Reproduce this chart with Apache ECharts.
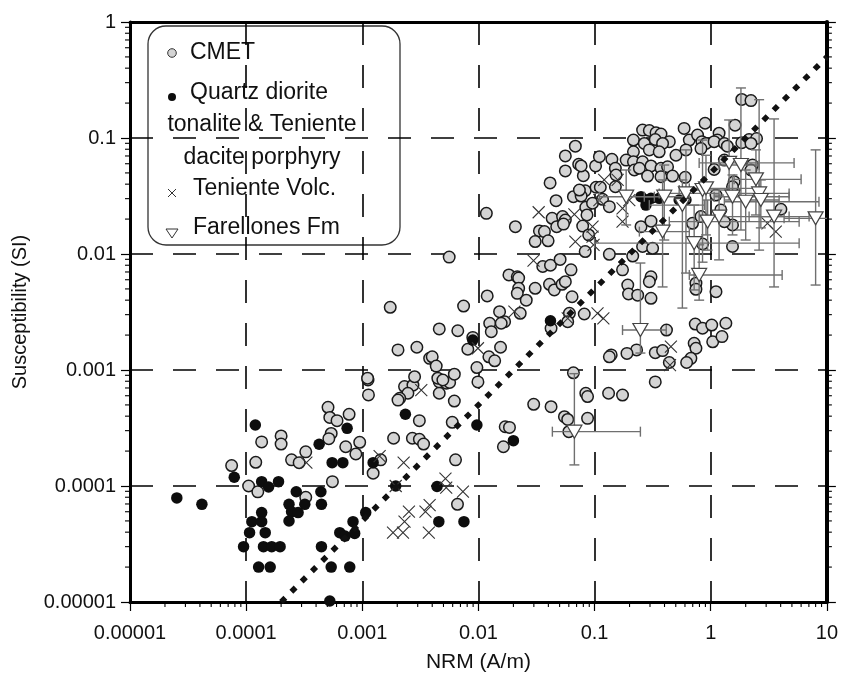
<!DOCTYPE html>
<html>
<head>
<meta charset="utf-8">
<script src="https://cdn.jsdelivr.net/npm/echarts@6/dist/echarts.min.js"></script>
<style>
  html, body { margin: 0; padding: 0; background: #fff; }
  #chart { width: 841px; height: 678px; }
</style>
</head>
<body>
<div id="chart"></div>
<script>
// NRM (A/m) vs magnetic susceptibility (SI), log-log

const xTickLabels = ['0.00001', '0.0001', '0.001', '0.01', '0.1', '1', '10'];
const yTickLabels = ['0.00001', '0.0001', '0.001', '0.01', '0.1', '1'];

// CMET samples [NRM, susceptibility]
const cmetPoints = [
  [1.36e-4, 2.4e-4], [2.0e-4, 2.7e-4], [2.0e-4, 2.3e-4], [7.5e-5, 1.5e-4], [1.21e-4, 1.6e-4],
  [1.05e-4, 1.0e-4], [1.26e-4, 8.9e-5], [1.12e-3, 8.2e-4], [1.13e-3, 6.1e-4], [2.31e-3, 7.2e-4],
  [2.73e-3, 7.4e-4], [2.47e-3, 6.3e-4], [2.1e-3, 5.7e-4], [2.03e-3, 5.5e-4], [4.6e-3, 7.9e-4],
  [5.3e-3, 7.7e-4], [5.65e-3, 7.8e-4], [4.6e-3, 6.3e-4], [6.2e-3, 5.4e-4], [3.1e-3, 3.66e-4],
  [5.95e-3, 3.54e-4], [5.07e-4, 4.77e-4], [5.25e-4, 3.9e-4], [6.06e-4, 3.66e-4], [7.7e-4, 4.15e-4],
  [5.4e-4, 2.84e-4], [5.15e-4, 2.56e-4], [7.2e-4, 2.18e-4], [9.5e-4, 2.38e-4], [8.8e-4, 1.89e-4],
  [3.26e-4, 1.97e-4], [2.46e-4, 1.68e-4], [2.86e-4, 1.59e-4], [1.44e-3, 1.68e-4], [1.24e-3, 1.29e-4],
  [1.86e-3, 2.58e-4], [2.7e-3, 2.58e-4], [3.1e-3, 2.53e-4], [3.37e-3, 2.3e-4], [6.35e-3, 1.68e-4],
  [5.53e-4, 1.09e-4], [3.26e-4, 8.0e-5], [6.6e-3, 6.95e-5], [5.6e-3, 9.4e-3], [1.74e-3, 3.47e-3],
  [4.6e-3, 2.26e-3], [2.03e-3, 1.49e-3], [2.95e-3, 1.57e-3], [3.8e-3, 1.26e-3], [4.0e-3, 1.3e-3],
  [4.33e-3, 1.08e-3], [1.11e-3, 8.5e-4], [2.82e-3, 8.76e-4], [4.47e-3, 8.5e-4], [4.94e-3, 8.2e-4],
  [6.83e-2, 8.5e-2], [5.6e-2, 7.0e-2], [7.3e-2, 5.94e-2], [5.6e-2, 5.2e-2], [8.0e-2, 4.73e-2],
  [1.02e-1, 5.74e-2], [4.14e-2, 4.1e-2], [8.3e-2, 3.51e-2], [6.57e-2, 3.12e-2], [7.66e-2, 3.16e-2],
  [1.03e-1, 3.76e-2], [4.66e-2, 2.88e-2], [8.4e-2, 2.53e-2], [9.6e-2, 2.74e-2], [8.6e-2, 2.17e-2],
  [1.17e-2, 2.24e-2], [4.31e-2, 2.03e-2], [5.3e-2, 2.1e-2], [5.6e-2, 1.96e-2], [4.72e-2, 1.72e-2],
  [5.4e-2, 1.81e-2], [2.08e-2, 1.72e-2], [3.35e-2, 1.58e-2], [3.7e-2, 1.56e-2], [3.08e-2, 1.28e-2],
  [3.98e-2, 1.3e-2], [7.9e-2, 1.74e-2], [8.9e-2, 1.46e-2], [8.3e-2, 1.05e-2], [3.58e-2, 7.8e-3],
  [4.17e-2, 8.0e-3], [5.05e-2, 8.98e-3], [6.27e-2, 7.3e-3], [1.83e-2, 6.6e-3], [2.16e-2, 6.36e-3],
  [2.22e-2, 6.2e-3], [4.09e-2, 5.48e-3], [4.5e-2, 4.9e-3], [5.25e-2, 5.48e-3], [5.6e-2, 5.77e-3],
  [2.22e-2, 5.06e-3], [2.16e-2, 4.58e-3], [3.08e-2, 5.06e-3], [1.19e-2, 4.35e-3], [6.4e-2, 4.28e-3],
  [2.58e-2, 4.0e-3], [7.45e-3, 3.56e-3], [2.29e-2, 3.08e-3], [1.52e-2, 3.18e-3], [1.68e-2, 2.61e-3],
  [1.25e-2, 2.53e-3], [1.57e-2, 2.53e-3], [1.29e-2, 2.14e-3], [8.15e-2, 3.04e-3], [6.07e-2, 3.08e-3],
  [5.87e-2, 2.61e-3], [4.22e-2, 2.29e-3], [6.64e-3, 2.18e-3], [8.94e-3, 1.91e-3], [8.1e-3, 1.51e-3],
  [1.55e-2, 1.57e-3], [1.23e-2, 1.3e-3], [1.38e-2, 1.2e-3], [9.7e-3, 1.05e-3], [9.9e-3, 7.9e-4],
  [6.2e-3, 9.2e-4], [6.57e-2, 9.46e-4], [2.99e-2, 5.06e-4], [4.22e-2, 4.83e-4], [8.4e-2, 6.3e-4],
  [8.7e-2, 5.9e-4], [5.5e-2, 3.96e-4], [5.87e-2, 3.75e-4], [8.7e-2, 3.83e-4], [6.0e-2, 2.94e-4],
  [1.7e-2, 3.24e-4], [1.85e-2, 3.2e-4], [1.64e-2, 2.18e-4], [1.34e-1, 9.94e-3], [2.13e-1, 9.6e-3],
  [1.74e-1, 7.3e-3], [2.59e-1, 1.16e-2], [3.16e-1, 1.12e-2], [1.93e-1, 5.4e-3], [1.96e-1, 4.52e-3],
  [2.35e-1, 4.42e-3], [3.06e-1, 4.15e-3], [3.06e-1, 6.36e-3], [2.96e-1, 5.77e-3], [7.46e-1, 5.6e-3],
  [7.46e-1, 4.96e-3], [1.11, 4.73e-3], [4.16e-1, 2.21e-3], [7.36e-1, 2.49e-3], [8.5e-1, 2.29e-3],
  [1.02, 2.44e-3], [1.04, 1.75e-3], [7.2e-1, 1.7e-3], [7.46e-1, 1.54e-3], [6.75e-1, 1.26e-3],
  [6.2e-1, 1.16e-3], [4.4e-1, 1.16e-3], [2.3e-1, 1.49e-3], [1.9e-1, 1.39e-3], [1.39e-1, 1.35e-3],
  [1.34e-1, 1.3e-3], [3.33e-1, 1.41e-3], [3.85e-1, 1.47e-3], [3.33e-1, 7.9e-4], [1.32e-1, 6.3e-4],
  [1.74e-1, 6.08e-4], [1.54, 1.16e-2], [8.5e-1, 1.22e-2], [1.35, 2.53e-3], [1.25, 1.94e-3],
  [5.9e-1, 1.21e-1], [8.94e-1, 1.34e-1], [2.59e-1, 1.17e-1], [2.96e-1, 1.16e-1], [3.38e-1, 1.11e-1],
  [3.73e-1, 1.08e-1], [2.16e-1, 9.6e-2], [2.68e-1, 8.98e-2], [3.33e-1, 9.7e-2], [4.4e-1, 9.3e-2],
  [3.85e-1, 8.98e-2], [6.54e-1, 9.6e-2], [7.7e-1, 1.06e-1], [8.4e-1, 9.3e-2], [2.16e-1, 7.6e-2],
  [2.96e-1, 7.9e-2], [3.6e-1, 7.6e-2], [5.02e-1, 7.1e-2], [6.12e-1, 7.9e-2], [1.1e-1, 6.9e-2],
  [1.41e-1, 6.56e-2], [1.51e-1, 5.48e-2], [1.53e-1, 4.8e-2], [1.87e-1, 6.45e-2], [2.16e-1, 6.23e-2],
  [2.59e-1, 6.23e-2], [3.06e-1, 5.74e-2], [3.73e-1, 5.48e-2], [4.25e-1, 5.65e-2], [2.2e-1, 5.3e-2],
  [2.43e-1, 5.48e-2], [7.66e-2, 5.74e-2], [7.4e-2, 3.56e-2], [1.12e-1, 3.76e-2], [1.51e-1, 3.8e-2],
  [1.17e-1, 2.96e-2], [1.34e-1, 2.56e-2], [2.86e-1, 4.7e-2], [3.73e-1, 4.64e-2], [4.69e-1, 4.7e-2],
  [6.03e-1, 4.58e-2], [2.51e-1, 1.72e-2], [3.06e-1, 1.92e-2], [6.97e-1, 1.84e-2], [8.24e-1, 2.1e-2],
  [1.85, 2.15e-1], [2.22, 2.1e-1], [1.62, 1.29e-1], [1.18, 1.1e-1], [1.14, 9.6e-2],
  [9.1e-1, 8.98e-2], [1.07, 9.3e-2], [1.31, 8.98e-2], [1.39, 8.5e-2], [2.14, 9.7e-2],
  [2.48, 9.9e-2], [1.85, 9.1e-2], [2.22, 8.98e-2], [8.24e-1, 8.1e-2], [1.31, 6.45e-2],
  [1.07, 5.35e-2], [2.29, 5.85e-2], [2.22, 5.3e-2], [1.59, 4.2e-2], [1.54, 3.8e-2],
  [1.11, 3.22e-2], [4.02, 2.43e-2], [1.54, 1.78e-2], [1.31, 1.9e-2], [1.22, 2.4e-2]
];

// Quartz diorite, tonalite & Teniente dacite porphyry
const quartzDioritePoints = [
  [1.2e-4, 3.36e-4], [7.9e-5, 1.19e-4], [2.53e-5, 7.9e-5], [4.16e-5, 6.95e-5], [1.36e-4, 1.09e-4],
  [1.56e-4, 9.8e-5], [1.9e-4, 1.09e-4], [1.36e-4, 5.9e-5], [1.12e-4, 4.93e-5], [1.36e-4, 4.93e-5],
  [1.07e-4, 3.96e-5], [1.46e-4, 3.96e-5], [9.5e-5, 3.0e-5], [1.41e-4, 3.0e-5], [1.66e-4, 3.0e-5],
  [1.96e-4, 3.0e-5], [1.28e-4, 2.0e-5], [1.61e-4, 2.0e-5], [2.35e-3, 4.15e-4], [7.4e-4, 3.14e-4],
  [4.25e-4, 2.29e-4], [5.5e-4, 1.59e-4], [6.8e-4, 1.59e-4], [1.24e-3, 1.59e-4], [2.7e-4, 8.93e-5],
  [4.4e-4, 8.93e-5], [3.2e-4, 6.95e-5], [4.45e-4, 6.95e-5], [2.34e-4, 6.95e-5], [2.46e-4, 6.0e-5],
  [2.8e-4, 5.9e-5], [2.34e-4, 4.99e-5], [1.94e-3, 1.0e-4], [4.4e-3, 9.9e-5], [4.56e-3, 4.93e-5],
  [7.5e-3, 4.93e-5], [1.07e-3, 5.9e-5], [8.32e-4, 4.93e-5], [8.6e-4, 3.9e-5], [6.4e-4, 3.96e-5],
  [7.1e-4, 3.7e-5], [4.45e-4, 3.0e-5], [5.4e-4, 2.0e-5], [7.8e-4, 2.0e-5], [5.25e-4, 1.02e-5],
  [4.17e-2, 2.66e-3], [8.94e-3, 1.81e-3], [9.7e-3, 3.36e-4], [2.0e-2, 2.46e-4], [2.51e-1, 3.12e-2],
  [2.77e-1, 2.92e-2], [3.06e-1, 3.02e-2], [3.6e-1, 3.02e-2], [2.77e-1, 2.64e-2], [5.35e-1, 2.92e-2],
  [6.12e-1, 2.92e-2]
];

// Teniente volcanics
const tenienteVolcPoints = [
  [3.22e-3, 6.7e-4], [3.3e-4, 1.59e-4], [1.41e-3, 1.81e-4], [2.27e-3, 1.59e-4], [1.94e-3, 1.0e-4],
  [5.2e-3, 1.16e-4], [5.28e-3, 9.7e-5], [7.35e-3, 8.93e-5], [2.52e-3, 6.0e-5], [2.31e-3, 4.93e-5],
  [1.84e-3, 3.96e-5], [2.24e-3, 3.96e-5], [3.5e-3, 6.0e-5], [3.8e-3, 6.85e-5], [3.74e-3, 3.96e-5],
  [3.3e-2, 2.29e-2], [6.7e-2, 2.2e-2], [6.83e-2, 1.28e-2], [9.6e-2, 1.41e-2], [9.8e-2, 1.2e-2],
  [2.98e-2, 8.76e-3], [2.04e-2, 3.18e-3], [5.87e-2, 2.79e-3], [9.9e-3, 1.54e-3], [1.06e-1, 3.08e-3],
  [1.19e-1, 2.79e-3], [4.54e-1, 1.59e-3], [4.46e-1, 1.1e-3], [1.21e-1, 4.35e-2], [1.58e-1, 4.35e-2],
  [1.74e-1, 1.9e-2], [1.1e-1, 2.92e-2], [1.99e-1, 2.92e-2], [1.74e-1, 2.47e-2], [9.6e-2, 1.72e-2],
  [3.08, 1.84e-2], [3.63, 1.56e-2]
];

// Farellones Fm site means: [NRM, susceptibility, NRM low, NRM high, susc low, susc high]
const farellonesPoints = [
  [6.7e-2, 2.94e-4, 4.33e-2, 2.48e-1, 1.52e-4, 9.3e-4],
  [2.48e-1, 2.21e-3, 1.74e-1, 4.14e-1, 1.4e-3, 8.36e-3],
  [7.2e-1, 1.24e-2, 1.0e-1, 5.77, 4.9e-3, 2.64e-2],
  [7.95e-1, 6.6e-3, 6.54e-1, 4.12, 4.0e-3, 1.2e-2],
  [3.85e-1, 1.56e-2, 2.43e-1, 6.54e-1, 5.2e-3, 4.35e-2],
  [1.87e-1, 3.12e-2, 1.1e-1, 3.27e-1, 1.78e-2, 5.3e-2],
  [3.98e-1, 3.12e-2, 2.68e-1, 6.54e-1, 1.32e-2, 5.85e-2],
  [6.12e-1, 3.33e-2, 3.6e-1, 1.18, 6.85e-3, 7.9e-2],
  [8.5e-1, 3.56e-2, 5.35e-1, 1.44, 8.5e-3, 9.6e-2],
  [5.7e-1, 2.64e-2, 2.96e-1, 8.8e-1, 3.42e-3, 4.35e-2],
  [1.44, 6.1e-2, 7.95e-1, 5.22, 2.92e-2, 1.43e-1],
  [1.82, 5.85e-2, 1.18, 2.61, 1.61e-2, 2.7e-1],
  [2.45, 4.4e-2, 1.59, 6.0, 2.17e-2, 7.9e-2],
  [9.1e-1, 3.68e-2, 6.54e-1, 2.61, 1.46e-2, 7.1e-2],
  [1.54, 3.12e-2, 1.07, 4.73, 1.46e-2, 4.8e-2],
  [2.0, 2.82e-2, 1.31, 8.55, 1.32e-2, 5.3e-2],
  [2.61, 3.33e-2, 1.76, 4.73, 1.08e-2, 2.14e-1],
  [2.7, 2.92e-2, 1.94, 3.88, 1.68e-2, 4.35e-2],
  [1.18, 2.1e-2, 7.95e-1, 7.03, 8.9e-3, 3.22e-2],
  [3.51, 2.1e-2, 2.14, 4.73, 5.2e-3, 1.46e-1],
  [9.4e-1, 1.9e-2, 4.4e-1, 5.77, 1.08e-2, 2.92e-2],
  [8.0, 2.03e-2, 4.28, 12.0, 5.4e-3, 7.9e-2]
];

// Reference line: susceptibility = 0.05 * NRM
const refLine = [[2e-4, 1e-5], [10, 0.5]];

const FONT = "'Liberation Sans', Arial, Helvetica, sans-serif";
const X_MIN = 1e-5, X_MAX = 10, Y_MIN = 1e-5, Y_MAX = 1;

// minor log ticks (2..9 within each decade) on bottom, left and right axes
const minorTicks = [];
for (let e = -5; e < 1; e++) {
  for (let m = 2; m <= 9; m++) minorTicks.push([m * Math.pow(10, e), Y_MIN, 0]);
}
for (let e = -5; e < 0; e++) {
  for (let m = 2; m <= 9; m++) {
    minorTicks.push([X_MIN, m * Math.pow(10, e), 1]);
    minorTicks.push([X_MAX, m * Math.pow(10, e), 2]);
  }
}

const chart = echarts.init(document.getElementById('chart'), null, { renderer: 'canvas' });

const dashGrid = { show: true, lineStyle: { color: '#000', width: 1.6, type: [23, 20] } };

function tickLabel(list) {
  return v => list[Math.round(Math.log10(v)) + 5];
}

chart.setOption({
  animation: false,
  backgroundColor: '#fff',
  grid: { left: 130, right: 13, top: 22, bottom: 76, containLabel: false },
  xAxis: [
    {
      type: 'log', logBase: 10, min: X_MIN, max: X_MAX, splitNumber: 6,
      name: 'NRM (A/m)', nameLocation: 'middle', nameGap: 50,
      nameTextStyle: { fontFamily: FONT, fontSize: 21, color: '#111' },
      axisLine: { show: true, lineStyle: { color: '#000', width: 3 } },
      axisTick: { show: true, inside: false, length: 9, lineStyle: { color: '#000', width: 1.2 } },
      axisLabel: { formatter: tickLabel(xTickLabels), fontFamily: FONT, fontSize: 20, color: '#111', margin: 21 },
      splitLine: dashGrid
    },
    {
      type: 'log', logBase: 10, min: X_MIN, max: X_MAX, position: 'top', splitNumber: 6,
      axisLine: { show: true, lineStyle: { color: '#000', width: 3 } },
      axisTick: { show: false }, axisLabel: { show: false }, splitLine: { show: false }
    }
  ],
  yAxis: [
    {
      type: 'log', logBase: 10, min: Y_MIN, max: Y_MAX, splitNumber: 5,
      name: 'Susceptibility (SI)', nameLocation: 'middle', nameGap: 100, nameRotate: 90,
      nameTextStyle: { fontFamily: FONT, fontSize: 20, color: '#111' },
      axisLine: { show: true, lineStyle: { color: '#000', width: 3 } },
      axisTick: { show: true, inside: false, length: 9, lineStyle: { color: '#000', width: 1.2 } },
      axisLabel: { formatter: tickLabel(yTickLabels), fontFamily: FONT, fontSize: 20, color: '#111', margin: 14 },
      splitLine: dashGrid
    },
    {
      type: 'log', logBase: 10, min: Y_MIN, max: Y_MAX, position: 'right', splitNumber: 5,
      axisLine: { show: true, lineStyle: { color: '#000', width: 4 } },
      axisTick: { show: true, inside: false, length: 9, lineStyle: { color: '#000', width: 1.2 } },
      axisLabel: { show: false }, splitLine: { show: false }
    }
  ],
  series: [
    {
      name: 'minor ticks', type: 'custom', coordinateSystem: 'cartesian2d',
      xAxisIndex: 0, yAxisIndex: 0, clip: false, silent: true, z: 1,
      data: minorTicks,
      renderItem(params, api) {
        const p = api.coord([api.value(0), api.value(1)]);
        const side = api.value(2);
        const len = 5;
        let shape;
        if (side === 0) shape = { x1: p[0], y1: p[1], x2: p[0], y2: p[1] + len };
        else if (side === 1) shape = { x1: p[0], y1: p[1], x2: p[0] - len, y2: p[1] };
        else shape = { x1: p[0], y1: p[1], x2: p[0] + len, y2: p[1] };
        return { type: 'line', shape, style: { stroke: '#000', lineWidth: 1.1 } };
      }
    },
    {
      name: 'CMET', type: 'scatter', data: cmetPoints, symbol: 'circle', symbolSize: 11.5, z: 3,
      itemStyle: { color: '#d4d4d4', borderColor: '#1a1a1a', borderWidth: 1.5, opacity: 1 }
    },
    {
      name: 'Quartz diorite', type: 'scatter', data: quartzDioritePoints, symbol: 'circle', symbolSize: 11.5, z: 4,
      itemStyle: { color: '#0d0d0d', borderColor: '#0d0d0d', borderWidth: 0, opacity: 1 }
    },
    {
      name: 'Teniente Volc.', type: 'scatter', data: tenienteVolcPoints, z: 5,
      symbol: 'path://M0,0L10,10M10,0L0,10', symbolSize: 12,
      itemStyle: { color: 'none', borderColor: '#333', borderWidth: 1.1, opacity: 1 }
    },
    {
      name: 'error bars', type: 'custom', coordinateSystem: 'cartesian2d', clip: true, z: 6,
      data: farellonesPoints,
      encode: { x: [0, 2, 3], y: [1, 4, 5] },
      renderItem(params, api) {
        const x = api.value(0), y = api.value(1);
        const xl = api.coord([api.value(2), y]);
        const xh = api.coord([api.value(3), y]);
        const yl = api.coord([x, api.value(4)]);
        const yh = api.coord([x, api.value(5)]);
        const cap = 5;
        const st = { stroke: '#6f6f6f', lineWidth: 1.4 };
        return {
          type: 'group',
          children: [
            { type: 'line', shape: { x1: xl[0], y1: xl[1], x2: xh[0], y2: xh[1] }, style: st },
            { type: 'line', shape: { x1: xl[0], y1: xl[1] - cap, x2: xl[0], y2: xl[1] + cap }, style: st },
            { type: 'line', shape: { x1: xh[0], y1: xh[1] - cap, x2: xh[0], y2: xh[1] + cap }, style: st },
            { type: 'line', shape: { x1: yl[0], y1: yl[1], x2: yh[0], y2: yh[1] }, style: st },
            { type: 'line', shape: { x1: yl[0] - cap, y1: yl[1], x2: yl[0] + cap, y2: yl[1] }, style: st },
            { type: 'line', shape: { x1: yh[0] - cap, y1: yh[1], x2: yh[0] + cap, y2: yh[1] }, style: st }
          ]
        };
      }
    },
    {
      name: 'Farellones Fm', type: 'scatter', z: 7,
      data: farellonesPoints.map(d => [d[0], d[1]]),
      symbol: 'triangle', symbolRotate: 180, symbolSize: [15, 13],
      itemStyle: { color: '#fff', borderColor: '#444', borderWidth: 1.2, opacity: 1 }
    },
    {
      name: 'reference', type: 'line', data: refLine, symbol: 'none', z: 8, silent: true,
      lineStyle: { color: '#111', width: 5.5, type: [6, 8.5], cap: 'butt' }
    }
  ],
  graphic: [
    {
      type: 'group', z: 100, children: [
        { type: 'rect', shape: { x: 148, y: 26, width: 252, height: 219, r: 18 },
          style: { fill: '#fff', stroke: '#333', lineWidth: 1.3 } },
        { type: 'circle', shape: { cx: 172, cy: 53, r: 4.3 },
          style: { fill: '#d4d4d4', stroke: '#333', lineWidth: 1 } },
        { type: 'text', style: { x: 190, y: 53, text: 'CMET', font: '23px ' + FONT, fill: '#111', verticalAlign: 'middle' } },
        { type: 'circle', shape: { cx: 172, cy: 97, r: 4 }, style: { fill: '#0d0d0d' } },
        { type: 'text', style: { x: 190, y: 93, text: 'Quartz diorite', font: '23px ' + FONT, fill: '#111', verticalAlign: 'middle' } },
        { type: 'text', style: { x: 262, y: 125, text: 'tonalite & Teniente', font: '23px ' + FONT, fill: '#111', align: 'center', verticalAlign: 'middle' } },
        { type: 'text', style: { x: 262, y: 158, text: 'dacite porphyry', font: '23px ' + FONT, fill: '#111', align: 'center', verticalAlign: 'middle' } },
        { type: 'polyline', shape: { points: [[168, 189], [176, 197]] }, style: { stroke: '#333', lineWidth: 1 } },
        { type: 'polyline', shape: { points: [[176, 189], [168, 197]] }, style: { stroke: '#333', lineWidth: 1 } },
        { type: 'text', style: { x: 193, y: 189, text: 'Teniente Volc.', font: '23px ' + FONT, fill: '#111', verticalAlign: 'middle' } },
        { type: 'polygon', shape: { points: [[166, 229], [178, 229], [172, 238]] },
          style: { fill: '#fff', stroke: '#333', lineWidth: 1 } },
        { type: 'text', style: { x: 193, y: 228, text: 'Farellones Fm', font: '23px ' + FONT, fill: '#111', verticalAlign: 'middle' } }
      ]
    }
  ]
});
</script>
</body>
</html>
